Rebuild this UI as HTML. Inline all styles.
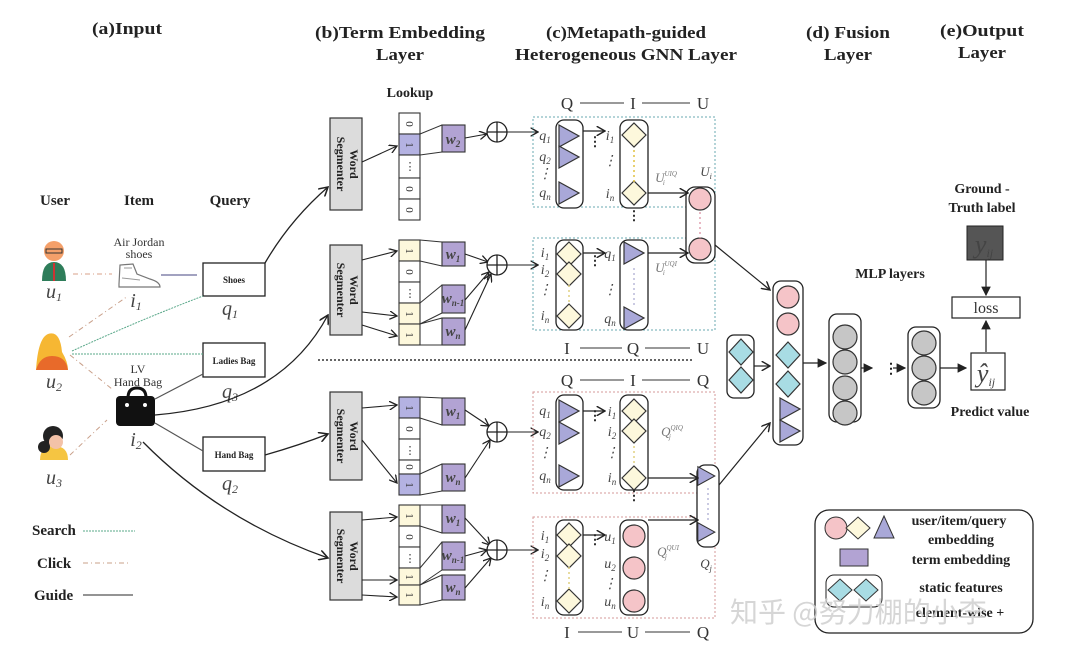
<!DOCTYPE html>
<html><head><meta charset="utf-8"><style>
html,body{margin:0;padding:0;background:#fff}
svg{display:block}
.t{font-family:"Liberation Serif",serif;font-weight:bold;fill:#222}
.s{font-family:"Liberation Serif",serif;fill:#333}
.i{font-family:"Liberation Serif",serif;font-style:italic;fill:#444}
</style></head><body>
<svg width="1080" height="656" viewBox="0 0 1080 656" xmlns="http://www.w3.org/2000/svg">
<defs>
<marker id="a" markerWidth="8" markerHeight="8" refX="7" refY="4" orient="auto"><path d="M0,0 L7,4 L0,8" fill="none" stroke="#222" stroke-width="1.2"/></marker>
<marker id="af" markerWidth="8" markerHeight="8" refX="7" refY="4" orient="auto"><path d="M0,0 L8,4 L0,8z" fill="#222"/></marker>
<polygon id="tri" points="-9,-11 11,0 -9,11" fill="#a9a8d8" stroke="#333" stroke-width="1.2"/>
<polygon id="dia" points="0,-12 12,0 0,12 -12,0" fill="#fdf8dc" stroke="#333" stroke-width="1.2"/>
<polygon id="cdia" points="0,-13 12,0 0,13 -12,0" fill="#a8dce4" stroke="#333" stroke-width="1.2"/>
<circle id="pc" r="11" fill="#f5c4c8" stroke="#333" stroke-width="1.2"/>
<circle id="gc" r="12" fill="#c6c6c6" stroke="#333" stroke-width="1.2"/>
<g id="plus"><circle r="10" fill="#fff" stroke="#222" stroke-width="1.3"/><path d="M-10,0H10M0,-10V10" stroke="#222" stroke-width="1.3"/></g>
</defs>

<g class="t" font-size="17" text-anchor="middle">
<text x="127" y="34" textLength="70" lengthAdjust="spacingAndGlyphs">(a)Input</text>
<text x="400" y="38" textLength="170" lengthAdjust="spacingAndGlyphs">(b)Term Embedding</text>
<text x="400" y="60" textLength="48" lengthAdjust="spacingAndGlyphs">Layer</text>
<text x="626" y="38" textLength="160" lengthAdjust="spacingAndGlyphs">(c)Metapath-guided</text>
<text x="626" y="60" textLength="222" lengthAdjust="spacingAndGlyphs">Heterogeneous GNN Layer</text>
<text x="848" y="38" textLength="84" lengthAdjust="spacingAndGlyphs">(d) Fusion</text>
<text x="848" y="60" textLength="48" lengthAdjust="spacingAndGlyphs">Layer</text>
<text x="982" y="36" textLength="84" lengthAdjust="spacingAndGlyphs">(e)Output</text>
<text x="982" y="58" textLength="48" lengthAdjust="spacingAndGlyphs">Layer</text>
</g>
<text class="t" x="410" y="97" font-size="14" text-anchor="middle">Lookup</text>

<g class="t" font-size="15" text-anchor="middle">
<text x="55" y="205">User</text><text x="139" y="205">Item</text><text x="230" y="205">Query</text>
</g>
<g>
<circle cx="54" cy="251" r="10" fill="#f4a06a"/><rect x="46" y="249" width="16" height="4" fill="none" stroke="#333"/>
<path d="M42,281 Q42,262 54,262 Q66,262 66,281z" fill="#2e7d5a"/><path d="M53,263h2v18h-2z" fill="#c33"/>
<path d="M36,370 Q38,338 48,334 Q60,330 62,352 Q68,362 68,370z" fill="#f6b733"/><path d="M36,370 Q40,356 52,356 Q66,356 68,370z" fill="#e86a2a"/>
<circle cx="53" cy="436" r="10" fill="#222"/><path d="M40,460 Q40,446 54,446 Q68,446 68,460z" fill="#f5c542"/><circle cx="56" cy="442" r="7" fill="#f3c2a8"/><circle cx="44" cy="447" r="6" fill="#222"/>
</g>
<g class="i" font-size="20" text-anchor="middle">
<text x="54" y="298">u<tspan font-size="12" dy="3">1</tspan></text>
<text x="54" y="388">u<tspan font-size="12" dy="3">2</tspan></text>
<text x="54" y="484">u<tspan font-size="12" dy="3">3</tspan></text>
<text x="136" y="307">i<tspan font-size="12" dy="3">1</tspan></text>
<text x="136" y="446">i<tspan font-size="12" dy="3">2</tspan></text>
<text x="230" y="315">q<tspan font-size="12" dy="3">1</tspan></text>
<text x="230" y="398">q<tspan font-size="12" dy="3">3</tspan></text>
<text x="230" y="490">q<tspan font-size="12" dy="3">2</tspan></text>
</g>
<g class="s" font-size="12" text-anchor="middle">
<text x="139" y="246">Air Jordan</text><text x="139" y="258">shoes</text>
<text x="138" y="373">LV</text><text x="138" y="386">Hand Bag</text>
</g>
<path d="M119,284 L120,265 L133,264 L137,274 L150,279 Q160,282 160,287 L119,287z" fill="#fff" stroke="#777" stroke-width="1.2"/>
<path d="M124,268 L132,268 M122,278 L140,280" stroke="#999" stroke-width="1"/>
<path d="M128,398 Q128,388 137,388 Q146,388 146,398" fill="none" stroke="#111" stroke-width="3"/>
<rect x="116" y="396" width="39" height="30" rx="4" fill="#111"/><circle cx="127" cy="405" r="2" fill="#fff"/><circle cx="145" cy="405" r="2" fill="#fff"/>
<g fill="#fff" stroke="#222" stroke-width="1.3">
<rect x="203" y="263" width="62" height="33"/><rect x="203" y="343" width="62" height="34"/><rect x="203" y="437" width="62" height="34"/>
</g>
<g class="t" font-size="9" text-anchor="middle"><text x="234" y="283">Shoes</text><text x="234" y="364">Ladies Bag</text><text x="234" y="458">Hand Bag</text></g>
<g fill="none" stroke-width="1">
<path d="M73,274H112" stroke="#d9a08a" stroke-dasharray="5,3,1,3"/>
<path d="M69,337L128,296" stroke="#c9a08a" stroke-dasharray="5,3,1,3"/>
<path d="M70,355L112,389" stroke="#c9a08a" stroke-dasharray="5,3,1,3"/>
<path d="M70,455L107,420" stroke="#c9a08a" stroke-dasharray="5,3,1,3"/>
<path d="M72,351Q140,320 203,296" stroke="#5aa88a" stroke-dasharray="2,1"/>
<path d="M72,354H203" stroke="#5aa88a" stroke-dasharray="2,1"/>
<path d="M161,275H197" stroke="#6a6a9a" stroke-width="1.3"/>
<path d="M155,399L203,374" stroke="#555" stroke-width="1.2"/>
<path d="M155,423L203,451" stroke="#555" stroke-width="1.2"/>
<path d="M83,531H135" stroke="#5aa88a" stroke-dasharray="2,1"/>
<path d="M83,563H130" stroke="#c9a08a" stroke-dasharray="5,3,1,3"/>
<path d="M83,595H133" stroke="#555" stroke-width="1.3"/>
</g>
<g class="t" font-size="15"><text x="32" y="535">Search</text><text x="37" y="568">Click</text><text x="34" y="600">Guide</text></g>
<g fill="none" stroke="#222" stroke-width="1.3" marker-end="url(#a)">
<path d="M265,263 Q290,220 328,187"/>
<path d="M155,415 Q280,405 328,315"/>
<path d="M265,455 Q300,445 328,434"/>
<path d="M143,442 Q220,520 328,558"/>
</g>
<g fill="#dcdcdc" stroke="#333" stroke-width="1.2">
<rect x="330" y="118" width="32" height="92"/><rect x="330" y="245" width="32" height="90"/><rect x="330" y="392" width="32" height="88"/><rect x="330" y="512" width="32" height="88"/>
</g>
<g class="t" font-size="12" text-anchor="middle">
<text transform="translate(346,164) rotate(90)"><tspan x="0" y="-4">Word</tspan><tspan x="0" y="9">Segmenter</tspan></text>
<text transform="translate(346,290) rotate(90)"><tspan x="0" y="-4">Word</tspan><tspan x="0" y="9">Segmenter</tspan></text>
<text transform="translate(346,436) rotate(90)"><tspan x="0" y="-4">Word</tspan><tspan x="0" y="9">Segmenter</tspan></text>
<text transform="translate(346,556) rotate(90)"><tspan x="0" y="-4">Word</tspan><tspan x="0" y="9">Segmenter</tspan></text>
</g>
<g stroke="#333" stroke-width="1.1">
<rect x="399" y="113" width="21" height="21" fill="#fff"/><rect x="399" y="134" width="21" height="21" fill="#b4b2e2"/><rect x="399" y="155" width="21" height="23" fill="#fff"/><rect x="399" y="178" width="21" height="21" fill="#fff"/><rect x="399" y="199" width="21" height="21" fill="#fff"/>
<rect x="399" y="240" width="21" height="21" fill="#fdf8dc"/><rect x="399" y="261" width="21" height="21" fill="#fff"/><rect x="399" y="282" width="21" height="21" fill="#fff"/><rect x="399" y="303" width="21" height="21" fill="#fdf8dc"/><rect x="399" y="324" width="21" height="21" fill="#fdf8dc"/>
<rect x="399" y="397" width="21" height="21" fill="#b4b2e2"/><rect x="399" y="418" width="21" height="21" fill="#fff"/><rect x="399" y="439" width="21" height="21" fill="#fff"/><rect x="399" y="460" width="21" height="14" fill="#fff"/><rect x="399" y="474" width="21" height="21" fill="#b4b2e2"/>
<rect x="399" y="505" width="21" height="21" fill="#fdf8dc"/><rect x="399" y="526" width="21" height="21" fill="#fff"/><rect x="399" y="547" width="21" height="21" fill="#fff"/><rect x="399" y="568" width="21" height="17" fill="#fdf8dc"/><rect x="399" y="585" width="21" height="20" fill="#fdf8dc"/>
</g>
<g class="s" font-size="11" text-anchor="middle">
<text transform="translate(410,124) rotate(90)" y="4">0</text><text transform="translate(410,145) rotate(90)" y="4">1</text><text x="410" y="170">⋮</text><text transform="translate(410,189) rotate(90)" y="4">0</text><text transform="translate(410,210) rotate(90)" y="4">0</text>
<text transform="translate(410,251) rotate(90)" y="4">1</text><text transform="translate(410,272) rotate(90)" y="4">0</text><text x="410" y="297">⋮</text><text transform="translate(410,314) rotate(90)" y="4">1</text><text transform="translate(410,335) rotate(90)" y="4">1</text>
<text transform="translate(410,408) rotate(90)" y="4">1</text><text transform="translate(410,429) rotate(90)" y="4">0</text><text x="410" y="454">⋮</text><text transform="translate(410,467) rotate(90)" y="4">0</text><text transform="translate(410,485) rotate(90)" y="4">1</text>
<text transform="translate(410,516) rotate(90)" y="4">1</text><text transform="translate(410,537) rotate(90)" y="4">0</text><text x="410" y="562">⋮</text><text transform="translate(410,577) rotate(90)" y="4">1</text><text transform="translate(410,595) rotate(90)" y="4">1</text>
</g>
<g fill="#b2a3d3" stroke="#333" stroke-width="1.1">
<rect x="442" y="125" width="23" height="27"/>
<rect x="442" y="242" width="23" height="24"/><rect x="442" y="285" width="23" height="28"/><rect x="442" y="318" width="23" height="27"/>
<rect x="442" y="398" width="23" height="27"/><rect x="442" y="464" width="23" height="27"/>
<rect x="442" y="505" width="23" height="28"/><rect x="442" y="542" width="23" height="28"/><rect x="442" y="575" width="23" height="25"/>
</g>
<g fill="none" stroke="#333" stroke-width="1">
<path d="M420,134L442,125M420,155L442,152"/>
<path d="M420,240L442,242M420,261L442,266M420,303L442,285M420,324L442,313M420,324L442,318M420,345L442,345"/>
<path d="M420,397L442,398M420,418L442,425M420,474L442,464M420,495L442,491"/>
<path d="M420,505L442,505M420,526L442,533M420,568L442,542M420,585L442,570M420,585L442,575M420,605L442,600"/>
</g>
<g class="i" font-size="15" text-anchor="middle" font-weight="bold" fill="#333">
<text x="453" y="144">w<tspan font-size="9" dy="3">2</tspan></text>
<text x="453" y="259">w<tspan font-size="9" dy="3">1</tspan></text>
<text x="453" y="303">w<tspan font-size="9" dy="3">n-1</tspan></text>
<text x="453" y="336">w<tspan font-size="9" dy="3">n</tspan></text>
<text x="453" y="416">w<tspan font-size="9" dy="3">1</tspan></text>
<text x="453" y="482">w<tspan font-size="9" dy="3">n</tspan></text>
<text x="453" y="523">w<tspan font-size="9" dy="3">1</tspan></text>
<text x="453" y="560">w<tspan font-size="9" dy="3">n-1</tspan></text>
<text x="453" y="592">w<tspan font-size="9" dy="3">n</tspan></text>
</g>
<g fill="none" stroke="#222" stroke-width="1.1" marker-end="url(#a)">
<path d="M362,162L397,146"/>
<path d="M362,260L397,251"/><path d="M362,312L397,316"/><path d="M362,325L397,336"/>
<path d="M362,408L397,405"/><path d="M362,440L397,483"/>
<path d="M362,520L397,517"/><path d="M362,580L397,580"/><path d="M362,595L397,597"/>
<path d="M465,138L487,134"/>
<path d="M465,254L488,262"/><path d="M465,300L489,272"/><path d="M465,330L491,274"/>
<path d="M465,410L489,426"/><path d="M465,478L490,440"/>
<path d="M465,518L490,545"/><path d="M465,556L487,550"/><path d="M465,588L491,558"/>
<path d="M507,132H538"/><path d="M507,265H538"/><path d="M507,432H538"/><path d="M507,550H538"/>
</g>
<use href="#plus" x="497" y="132"/><use href="#plus" x="497" y="265"/><use href="#plus" x="497" y="432"/><use href="#plus" x="497" y="550"/>
<path d="M318,360H693" stroke="#333" stroke-width="1.5" stroke-dasharray="2,2"/>

<g fill="none" stroke-width="1" stroke-dasharray="2,2">
<rect x="533" y="117" width="182" height="90" stroke="#6aaab0"/>
<rect x="533" y="238" width="182" height="92" stroke="#6aaab0"/>
<rect x="533" y="392" width="182" height="101" stroke="#d69a9a"/>
<rect x="533" y="517" width="182" height="101" stroke="#d69a9a"/>
</g>
<g class="s" font-size="17" text-anchor="middle">
<text x="567" y="109">Q</text><text x="633" y="109">I</text><text x="703" y="109">U</text>
<text x="567" y="354">I</text><text x="633" y="354">Q</text><text x="703" y="354">U</text>
<text x="567" y="386">Q</text><text x="633" y="386">I</text><text x="703" y="386">Q</text>
<text x="567" y="638">I</text><text x="633" y="638">U</text><text x="703" y="638">Q</text>
</g>
<g stroke="#333" stroke-width="1"><path d="M580,103H624M642,103H690M580,348H622M645,348H690M580,380H624M642,380H690M578,632H622M645,632H690"/></g>
<g fill="#fff" stroke="#222" stroke-width="1.3">
<rect x="556" y="120" width="27" height="88" rx="8"/><rect x="620" y="120" width="28" height="88" rx="8"/>
<rect x="556" y="240" width="27" height="90" rx="8"/><rect x="620" y="240" width="28" height="90" rx="8"/>
<rect x="556" y="395" width="27" height="95" rx="8"/><rect x="620" y="395" width="28" height="95" rx="8"/>
<rect x="556" y="520" width="27" height="95" rx="8"/><rect x="620" y="520" width="28" height="95" rx="8"/>
<rect x="686" y="187" width="29" height="76" rx="9"/>
<rect x="697" y="465" width="22" height="82" rx="8"/>
</g>
<use href="#tri" x="568" y="136"/><use href="#tri" x="568" y="157"/><use href="#tri" x="568" y="193"/>
<use href="#dia" x="634" y="135"/><use href="#dia" x="634" y="193"/>
<use href="#dia" x="569" y="254"/><use href="#dia" x="569" y="274"/><use href="#dia" x="569" y="316"/>
<use href="#tri" x="633" y="253"/><use href="#tri" x="633" y="318"/>
<use href="#tri" x="568" y="411"/><use href="#tri" x="568" y="433"/><use href="#tri" x="568" y="476"/>
<use href="#dia" x="634" y="411"/><use href="#dia" x="634" y="431"/><use href="#dia" x="634" y="478"/>
<use href="#dia" x="569" y="535"/><use href="#dia" x="569" y="556"/><use href="#dia" x="569" y="601"/>
<use href="#pc" x="634" y="536"/><use href="#pc" x="634" y="568"/><use href="#pc" x="634" y="601"/>
<use href="#pc" x="700" y="199"/><use href="#pc" x="700" y="249"/>
<g transform="scale(0.85)"><use href="#tri" x="830" y="560"/><use href="#tri" x="830" y="626"/></g>
<g class="i" font-size="14" text-anchor="middle">
<text x="545" y="140">q<tspan font-size="9" dy="3">1</tspan></text><text x="545" y="161">q<tspan font-size="9" dy="3">2</tspan></text><text x="545" y="178">⋮</text><text x="545" y="197">q<tspan font-size="9" dy="3">n</tspan></text>
<text x="610" y="140">i<tspan font-size="9" dy="3">1</tspan></text><text x="610" y="165">⋮</text><text x="610" y="198">i<tspan font-size="9" dy="3">n</tspan></text>
<text x="545" y="257">i<tspan font-size="9" dy="3">1</tspan></text><text x="545" y="274">i<tspan font-size="9" dy="3">2</tspan></text><text x="545" y="294">⋮</text><text x="545" y="320">i<tspan font-size="9" dy="3">n</tspan></text>
<text x="610" y="258">q<tspan font-size="9" dy="3">1</tspan></text><text x="610" y="294">⋮</text><text x="610" y="323">q<tspan font-size="9" dy="3">n</tspan></text>
<text x="545" y="415">q<tspan font-size="9" dy="3">1</tspan></text><text x="545" y="436">q<tspan font-size="9" dy="3">2</tspan></text><text x="545" y="457">⋮</text><text x="545" y="480">q<tspan font-size="9" dy="3">n</tspan></text>
<text x="612" y="416">i<tspan font-size="9" dy="3">1</tspan></text><text x="612" y="436">i<tspan font-size="9" dy="3">2</tspan></text><text x="612" y="457">⋮</text><text x="612" y="482">i<tspan font-size="9" dy="3">n</tspan></text>
<text x="545" y="540">i<tspan font-size="9" dy="3">1</tspan></text><text x="545" y="558">i<tspan font-size="9" dy="3">2</tspan></text><text x="545" y="580">⋮</text><text x="545" y="606">i<tspan font-size="9" dy="3">n</tspan></text>
<text x="610" y="541">u<tspan font-size="9" dy="3">1</tspan></text><text x="610" y="568">u<tspan font-size="9" dy="3">2</tspan></text><text x="610" y="588">⋮</text><text x="610" y="606">u<tspan font-size="9" dy="3">n</tspan></text>
<text x="706" y="176" font-size="13">U<tspan font-size="8" dy="3">i</tspan></text>
<text x="666" y="182" font-size="13" fill="#777">U<tspan font-size="7" dy="-6">UIQ</tspan><tspan font-size="7" dx="-14" dy="9">i</tspan></text>
<text x="666" y="272" font-size="13" fill="#777">U<tspan font-size="7" dy="-6">UQI</tspan><tspan font-size="7" dx="-14" dy="9">i</tspan></text>
<text x="672" y="436" font-size="13" fill="#777">Q<tspan font-size="7" dy="-6">QIQ</tspan><tspan font-size="7" dx="-14" dy="9">j</tspan></text>
<text x="668" y="556" font-size="13" fill="#777">Q<tspan font-size="7" dy="-6">QUI</tspan><tspan font-size="7" dx="-14" dy="9">j</tspan></text>
<text x="706" y="568" font-size="13">Q<tspan font-size="8" dy="3">j</tspan></text>
</g>
<g class="t" font-size="13" text-anchor="middle">
<text x="595" y="146">⋮</text><text x="595" y="265">⋮</text><text x="595" y="420">⋮</text><text x="595" y="544">⋮</text>
<text x="634" y="500">⋮</text><text x="634" y="220">⋮</text>
</g>
<g stroke-dasharray="2,3" stroke-width="1.5"><path d="M634,150V183" stroke="#e0c040"/><path d="M634,268V305" stroke="#b8b8d8"/><path d="M569,285V305" stroke="#e0d080"/><path d="M634,446V466" stroke="#e0d080"/><path d="M569,567V590" stroke="#e0d080"/><path d="M700,212V238" stroke="#e0a0b0"/><path d="M708,488V522" stroke="#b8b8d8"/></g>
<g fill="none" stroke="#222" stroke-width="1.2" marker-end="url(#a)">
<path d="M583,131H605"/><path d="M583,253H605"/><path d="M583,411H605"/><path d="M583,535H605"/>
<path d="M648,193H688"/><path d="M648,253H688"/><path d="M648,478H698"/><path d="M648,520H698"/>
<path d="M715,245L770,290"/><path d="M719,485L770,423"/>
<path d="M754,366H770"/>
<path d="M803,363H826" marker-end="url(#af)"/><path d="M860,368H872" marker-end="url(#af)"/><path d="M893,368H905" marker-end="url(#af)"/>
<path d="M940,368H966" marker-end="url(#af)"/>
<path d="M986,352V321" marker-end="url(#af)"/><path d="M986,260V295" marker-end="url(#af)"/>
</g>
<text class="t" x="884" y="373" font-size="14">⋮</text>
<g fill="#fff" stroke="#222" stroke-width="1.3">
<rect x="727" y="335" width="27" height="63" rx="7"/>
<rect x="773" y="281" width="30" height="164" rx="8"/>
<rect x="829" y="314" width="32" height="108" rx="8"/>
<rect x="908" y="327" width="32" height="81" rx="8"/>
</g>
<use href="#cdia" x="741" y="352"/><use href="#cdia" x="741" y="380"/>
<use href="#pc" x="788" y="297"/><use href="#pc" x="788" y="324"/>
<use href="#cdia" x="788" y="355"/><use href="#cdia" x="788" y="384"/>
<use href="#tri" x="789" y="409"/><use href="#tri" x="789" y="431"/>
<use href="#gc" x="845" y="337"/><use href="#gc" x="845" y="362"/><use href="#gc" x="845" y="388"/><use href="#gc" x="845" y="413"/>
<use href="#gc" x="924" y="343"/><use href="#gc" x="924" y="368"/><use href="#gc" x="924" y="393"/>
<text class="t" x="890" y="278" font-size="14" text-anchor="middle">MLP layers</text>
<rect x="967" y="226" width="36" height="34" fill="#555" stroke="#222"/>
<text class="i" x="984" y="253" font-size="26" fill="#eee" text-anchor="middle">y<tspan font-size="12" dy="4">ij</tspan></text>
<rect x="952" y="297" width="68" height="21" fill="#fff" stroke="#222" stroke-width="1.2"/>
<text class="s" x="986" y="313" font-size="16" text-anchor="middle">loss</text>
<rect x="971" y="353" width="34" height="37" fill="#fff" stroke="#222" stroke-width="1.2"/>
<text class="i" x="986" y="382" font-size="26" text-anchor="middle">ŷ<tspan font-size="12" dy="4">ij</tspan></text>
<g class="t" font-size="14" text-anchor="middle"><text x="982" y="193">Ground -</text><text x="982" y="212">Truth label</text><text x="990" y="416">Predict value</text></g>
<rect x="815" y="510" width="218" height="123" rx="14" fill="#fff" stroke="#222" stroke-width="1.3"/>
<circle cx="836" cy="528" r="11" fill="#f5c4c8" stroke="#333"/>
<polygon points="858,517 870,528 858,539 846,528" fill="#fdf8dc" stroke="#333"/>
<polygon points="884,516 894,538 874,538" fill="#a9a8d8" stroke="#333"/>
<rect x="840" y="549" width="28" height="17" fill="#b2a3d3" stroke="#333"/>
<rect x="826" y="575" width="56" height="32" rx="8" fill="#fff" stroke="#222"/>
<polygon points="840,579 852,590 840,601 828,590" fill="#a8dce4" stroke="#333"/>
<polygon points="866,579 878,590 866,601 854,590" fill="#a8dce4" stroke="#333"/>
<g class="t" font-size="14" text-anchor="middle"><text x="959" y="525">user/item/query</text><text x="961" y="544">embedding</text><text x="961" y="564">term embedding</text><text x="961" y="592">static features</text><text x="960" y="617">element-wise +</text></g>
<text x="730" y="622" font-family="'Noto Sans CJK SC',sans-serif" font-size="28" fill="#cfcfcf" fill-opacity="0.85">知乎 @努力棚的小李</text>
</svg>
</body></html>
